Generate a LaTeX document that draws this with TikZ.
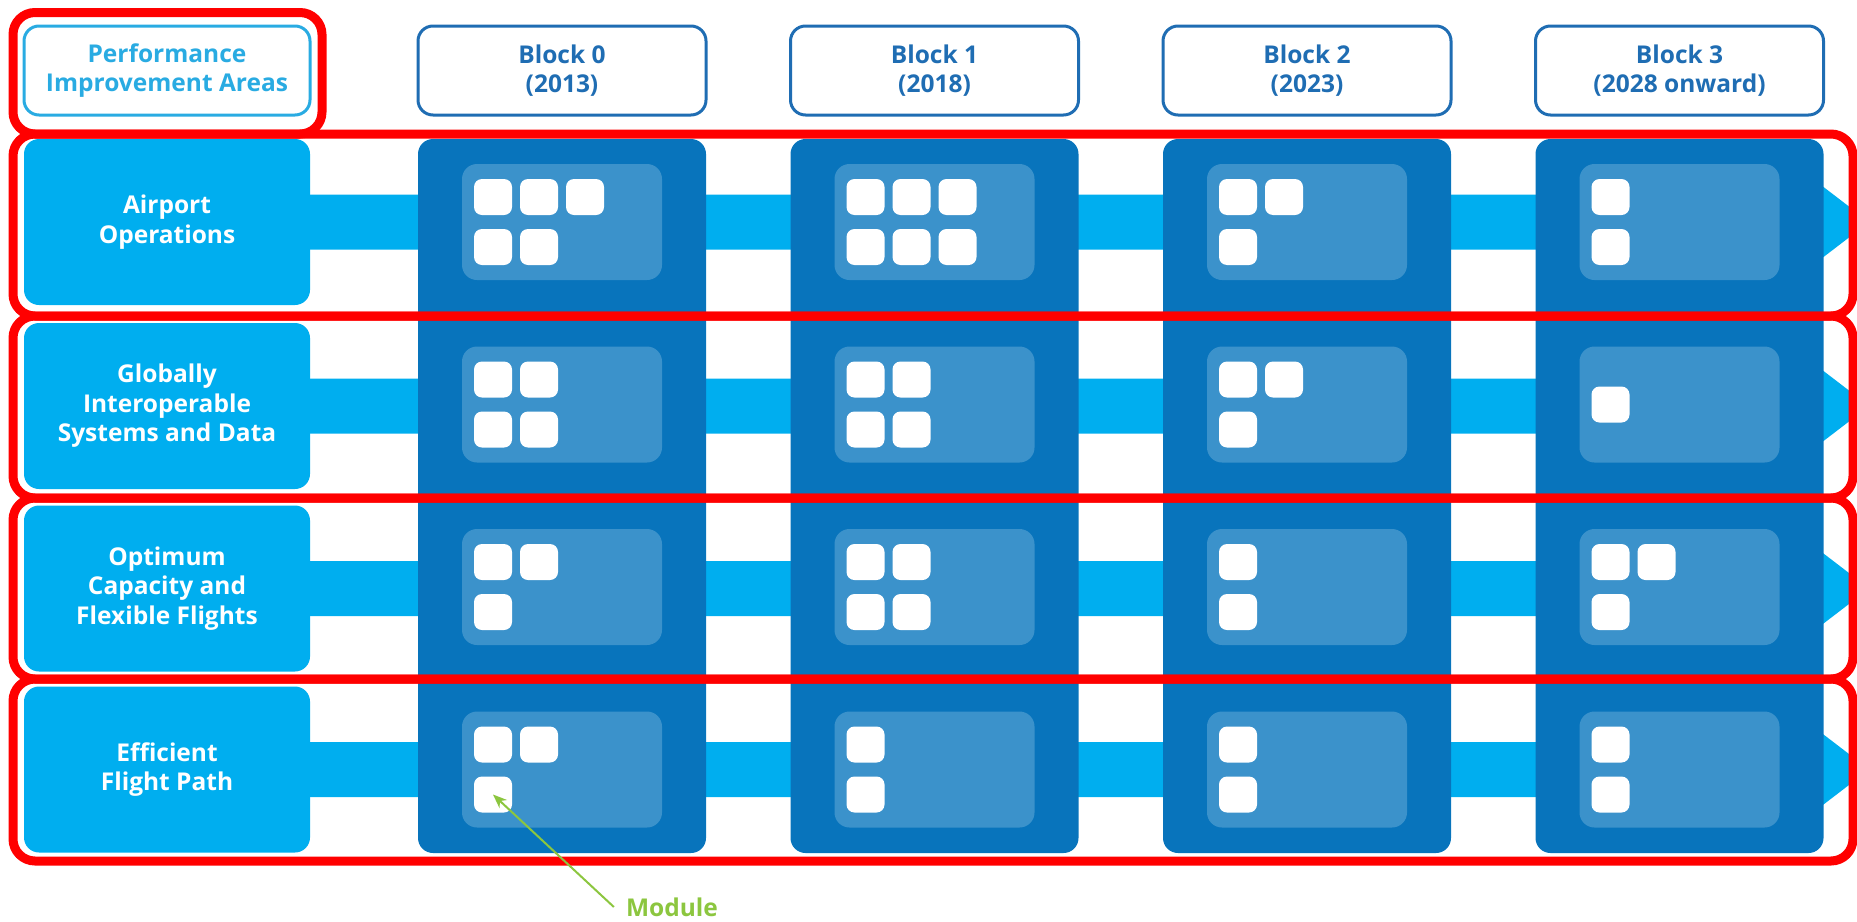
\documentclass[tikz,border=0pt]{standalone}
\usepackage{fontspec}
\setmainfont{Open Sans}
\usetikzlibrary{positioning,arrows.meta}
\definecolor{areablue}{HTML}{00AEEF}
\definecolor{blockblue}{HTML}{0874BC}
\definecolor{panelblue}{HTML}{3B92CB}
\definecolor{headblue}{HTML}{1F6DB3}
\definecolor{piablue}{HTML}{29ABE2}
\definecolor{modgreen}{HTML}{8CC63F}
\begin{document}
\begin{tikzpicture}[x=1pt,y=-1pt,
                every node/.style = {inner sep=0pt, align=center,
                    font=\fontsize{24.5}{29.5}\selectfont\bfseries},
                header/.style = {draw=headblue, line width=3pt, rounded corners=15pt,
                    fill=white, text=headblue, minimum width=288pt, minimum height=89pt},
                piahead/.style = {header, draw=piablue, text=piablue, minimum width=286pt},
                area/.style = {fill=areablue, text=white, rounded corners=15pt,
                    minimum width=286pt, minimum height=166pt},
                block/.style = {fill=blockblue, rounded corners=15pt,
                    minimum width=288pt, minimum height=714pt},
                panel/.style = {fill=panelblue, rounded corners=15pt,
                    minimum width=200pt, minimum height=116pt},
                module/.style = {fill=white, rounded corners=8pt,
                    minimum width=38pt, minimum height=36pt},
                band/.style = {fill=areablue},
                redbox/.style = {draw=red, line width=9pt, rounded corners=22pt},
                modarrow/.style = {draw=modgreen, line width=2pt,
                    -{Stealth[length=14pt,width=11pt]}}
            ]
            \useasboundingbox (0,0) rectangle (1857,921);
            \node[area] (a1) at (167,222) {Airport\\Operations};
            \node[area] (a2) at (167,406) {Globally\\Interoperable\\Systems and Data};
            \node[area] (a3) at (167,588.5) {Optimum\\Capacity and\\Flexible Flights};
            \node[area] (a4) at (167,769.5) {Efficient\\Flight Path};
            \foreach \r in {1,...,4}
                \fill[band] (a\r.east) +(0,-27.5) -- +(1512,-27.5) -- +(1512,-36)
                    -- +(1559,0) -- +(1512,36) -- +(1512,27.5) -- +(0,27.5) -- cycle;
            \node[block] (col0) at (562,496) {};
            \node[block] (col1) at (934.5,496) {};
            \node[block] (col2) at (1307,496) {};
            \node[block] (col3) at (1679.5,496) {};
            \foreach \c/\r/\t/\b in {0/1/3/2, 0/2/2/2, 0/3/2/1, 0/4/2/1,
                                     1/1/3/3, 1/2/2/2, 1/3/2/2, 1/4/1/1,
                                     2/1/2/1, 2/2/2/1, 2/3/1/1, 2/4/1/1,
                                     3/1/1/1, 3/2/1/0, 3/3/2/1, 3/4/1/1} {
                \pgfmathsetmacro\px{562+372.5*\c}
                \pgfmathsetmacro\py{222+182.5*(\r-1)}
                \node[panel] (p-\c-\r) at (\px,\py) {};
                \ifnum\b=0
                    \node[module] (m-\c-\r-t-1) at (\px-69,\py) {};
                \else
                    \foreach \i in {1,...,\t}
                        \node[module] (m-\c-\r-t-\i) at (\px-115+46*\i,\py-25) {};
                    \foreach \i in {1,...,\b}
                        \node[module] (m-\c-\r-b-\i) at (\px-115+46*\i,\py+25) {};
                \fi
            }
            \node[piahead] (pia) at (167,70.5) {Performance\\Improvement Areas};
            \node[header] (b0) at (562,70.5) {Block 0\\(2013)};
            \node[header] (b1) at (934.5,70.5) {Block 1\\(2018)};
            \node[header] (b2) at (1307,70.5) {Block 2\\(2023)};
            \node[header] (b3) at (1679.5,70.5) {Block 3\\(2028 onward)};
            \draw[redbox] (13,12.5) rectangle (322,134);
            \draw[redbox] (13,134) rectangle (1853,316);
            \draw[redbox] (13,316) rectangle (1853,498);
            \draw[redbox] (13,498) rectangle (1853,679);
            \draw[redbox] (13,679) rectangle (1853,861);
            \node[text=modgreen] (modlbl) at (672,907) {Module};
            \draw[modarrow] ([xshift=-12pt]modlbl.west) -- (m-0-4-b-1.center);
        \end{tikzpicture}
\end{document}
